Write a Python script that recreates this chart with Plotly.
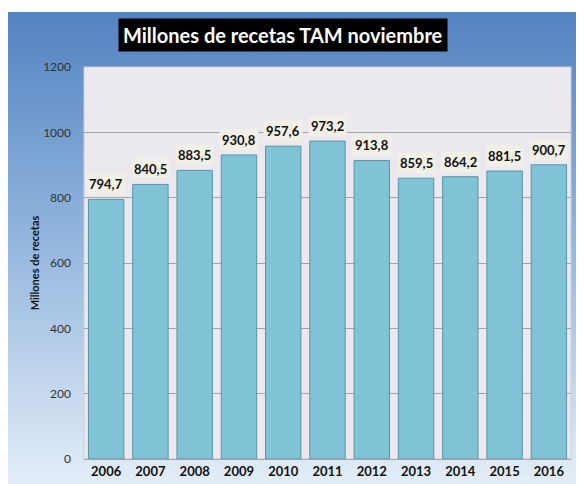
import base64
import plotly.graph_objects as go

YEARS = ["2006", "2007", "2008", "2009", "2010", "2011", "2012", "2013", "2014", "2015", "2016"]
RECETAS = [794.7, 840.5, 883.5, 930.8, 957.6, 973.2, 913.8, 859.5, 864.2, 881.5, 900.7]
Y_TICKS = [0, 200, 400, 600, 800, 1000, 1200]

TITLE = "Millones de recetas TAM noviembre"
Y_TITLE = "Millones de recetas"
FONT = "Lato, Open Sans, sans-serif"

# plot area in paper pixels
L, R, T, B = 76, 21, 59, 33
PW, PH = 584 - L - R, 484 - T - B

# blue gradient background behind the whole chart
bg_svg = (
    '<svg xmlns="http://www.w3.org/2000/svg" width="100" height="100" preserveAspectRatio="none">'
    '<defs><linearGradient id="g" x1="0" y1="0" x2="0" y2="1">'
    '<stop offset="0" stop-color="#5483c2"/><stop offset="0.45" stop-color="#8fb3dc"/>'
    '<stop offset="1" stop-color="#e6eff9"/></linearGradient></defs>'
    '<rect width="100" height="100" fill="url(#g)"/></svg>'
)
bg_uri = "data:image/svg+xml;base64," + base64.b64encode(bg_svg.encode()).decode()

fig = go.Figure(go.Bar(
    x=YEARS,
    y=RECETAS,
    marker=dict(color="#80c3d6", line=dict(color="#5a95a5", width=1)),
))

# value labels; category index as x (numeric-looking strings would be read as positions)
for i, v in enumerate(RECETAS):
    fig.add_annotation(
        x=i, y=v, text=f"<b>{v:.1f}</b>".replace(".", ","),
        showarrow=False, yanchor="bottom", yshift=4,
        bgcolor="#f2f0e6", borderpad=2,
        font=dict(family=FONT, size=13, color="#111111"),
    )

fig.add_annotation(
    xref="paper", yref="paper", x=(275 - L) / PW, y=1.0, yshift=15,
    xanchor="center", yanchor="bottom",
    text=f"<b>{TITLE}</b>", showarrow=False,
    bgcolor="#000000", borderpad=4,
    font=dict(family=FONT, size=20, color="#ffffff"),
)

fig.update_layout(
    width=584, height=484,
    paper_bgcolor="#ffffff",
    plot_bgcolor="#ebe8ef",
    margin=dict(l=L, r=R, t=T, b=B),
    bargap=0.2,
    showlegend=False,
    font=dict(family=FONT, color="#222222"),
    images=[dict(
        source=bg_uri, xref="paper", yref="paper",
        x=-L / PW, y=1 + (T - 4) / PH, sizex=584 / PW, sizey=(484 - 4) / PH,
        xanchor="left", yanchor="top", sizing="stretch", layer="below",
    )],
    shapes=[dict(
        type="rect", xref="paper", yref="paper", x0=0, x1=1, y0=0, y1=1,
        fillcolor="#ebe8ef", line=dict(color="#cfcdd6", width=1), layer="below",
    )],
)

fig.update_yaxes(
    range=[0, 1200], tickvals=Y_TICKS,
    showgrid=True, gridcolor="#a4a4a4", gridwidth=1,
    zeroline=False, showline=False,
    tickfont=dict(family=FONT, size=12, color="#333333"),
    ticks="", ticklabelstandoff=12,
    title=dict(text=f"<b>{Y_TITLE}</b>", font=dict(family=FONT, size=11, color="#111111"), standoff=1),
)
fig.update_xaxes(
    type="category",
    showline=True, linecolor="#a4a4a4",
    tickfont=dict(family=FONT, size=13, color="#111111"),
    tickprefix="<b>", ticksuffix="</b>",
)

fig.write_html("out.html")
